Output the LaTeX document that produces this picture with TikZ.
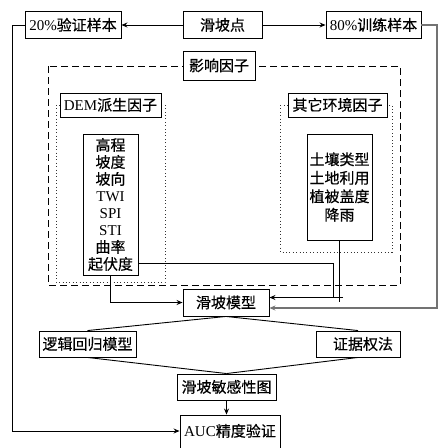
\documentclass[tikz,border=0pt]{standalone}
\usepackage{fontspec}
\setmainfont{Liberation Serif}
\newfontfamily\cjk[FakeBold=0.4]{Noto Sans CJK SC}
\usetikzlibrary{arrows.meta}
\begin{document}
\begin{tikzpicture}[x=1pt,y=-1pt,
  box/.style={draw, line width=0.9pt, fill=white, inner sep=0pt,
    text height=13pt, text depth=1.8pt, font=\fontsize{15}{17}\selectfont},
  listbox/.style={draw, line width=0.9pt, fill=white, inner sep=0pt,
    align=center},
  ln/.style={line width=0.9pt},
  arr/.style={line width=0.9pt, -{Stealth[length=6pt,width=5pt]}},
  grayarr/.style={line width=1.1pt, black!55, -{Stealth[length=6pt,width=5pt]}},
  dashframe/.style={line width=0.9pt, dash pattern=on 7pt off 4pt},
  dotframe/.style={line width=0.6pt, dash pattern=on 0.8pt off 2.6pt, black!80},
]
\fill[white] (0,0) rectangle (445,448);
\useasboundingbox (0,0) rectangle (445,448);

% frames
\draw[dashframe] (48,66) rectangle (400,285);
\draw[dotframe] (56,105) rectangle (165,282);
\draw[dotframe] (280,105) rectangle (392,252);

% nodes
\node[box, minimum width=79pt, minimum height=27pt] (pt) at (222.5,25) {\cjk 滑坡点};
\node[box, minimum width=96pt, minimum height=27pt] (val) at (73,25) {20\%\cjk 验证样本};
\node[box, minimum width=95pt, minimum height=27pt] (train) at (373.5,25) {80\%\cjk 训练样本};
\node[box, minimum width=72pt, minimum height=29pt] (inf) at (219,65.5) {\cjk 影响因子};
\node[box, minimum width=101pt, minimum height=24pt] (dem) at (110.5,105) {DEM\cjk 派生因子};
\node[box, minimum width=99pt, minimum height=24pt] (oth) at (337.5,105) {\cjk 其它环境因子};
\node[listbox, minimum width=55pt, minimum height=141pt, font=\fontsize{15}{17}\selectfont] (demlist) at (110.5,204.5)
  {{\cjk 高程}\\{\cjk 坡度}\\{\cjk 坡向}\\TWI\\SPI\\STI\\{\cjk 曲率}\\{\cjk 起伏度}};
\node[listbox, minimum width=65pt, minimum height=106pt, font=\fontsize{15}{18.5}\selectfont] (othlist) at (339.5,187)
  {{\cjk 土壤类型}\\{\cjk 土地利用}\\{\cjk 植被盖度}\\{\cjk 降雨}};
\node[box, minimum width=86pt, minimum height=27pt] (model) at (226,302.5) {\cjk 滑坡模型};
\node[box, minimum width=97pt, minimum height=26pt] (lr) at (87.5,344) {\cjk 逻辑回归模型};
\node[box, text width=70pt, align=right, inner xsep=7pt, minimum height=26pt] (woe) at (358,344) {\cjk 证据权法};
\node[box, minimum width=99pt, minimum height=26pt] (map) at (226.5,387) {\cjk 滑坡敏感性图};
\node[box, minimum width=100pt, minimum height=36pt, text depth=5.8pt] (auc) at (230,433) {AUC\cjk 精度验证};

% connectors
\coordinate (lc) at (12,25);
\coordinate (rc) at (437,25);
\coordinate (q1) at (333,263);
\coordinate (q2) at (333,297.5);
\coordinate (q3) at (343,297.5);

\draw[arr] (pt) -- (val);
\draw[arr] (pt) -- (train);
\draw[arr] (val.west) -- (lc) |- ([yshift=2pt]auc.west);
\draw[grayarr] (train.east) -- (rc) |- ([yshift=-5.5pt]model.east);
\draw[ln] (demlist.east |- q1) -- (q1) -- (q2);
\draw[arr] (q3) -- (model.east |- q3);
\draw[ln] (othlist.south) -- ++(0,62);
\draw[arr] (demlist.south) |- (model.west);
\draw[ln] (model.south) -- (lr.north);
\draw[ln] (model.south) -- (woe.north);
\draw[ln] (lr.south) -- (map.north);
\draw[ln] (woe.south) -- (map.north);
\draw[arr] (map.south) -- (map.south |- auc.north);
\end{tikzpicture}
\end{document}
